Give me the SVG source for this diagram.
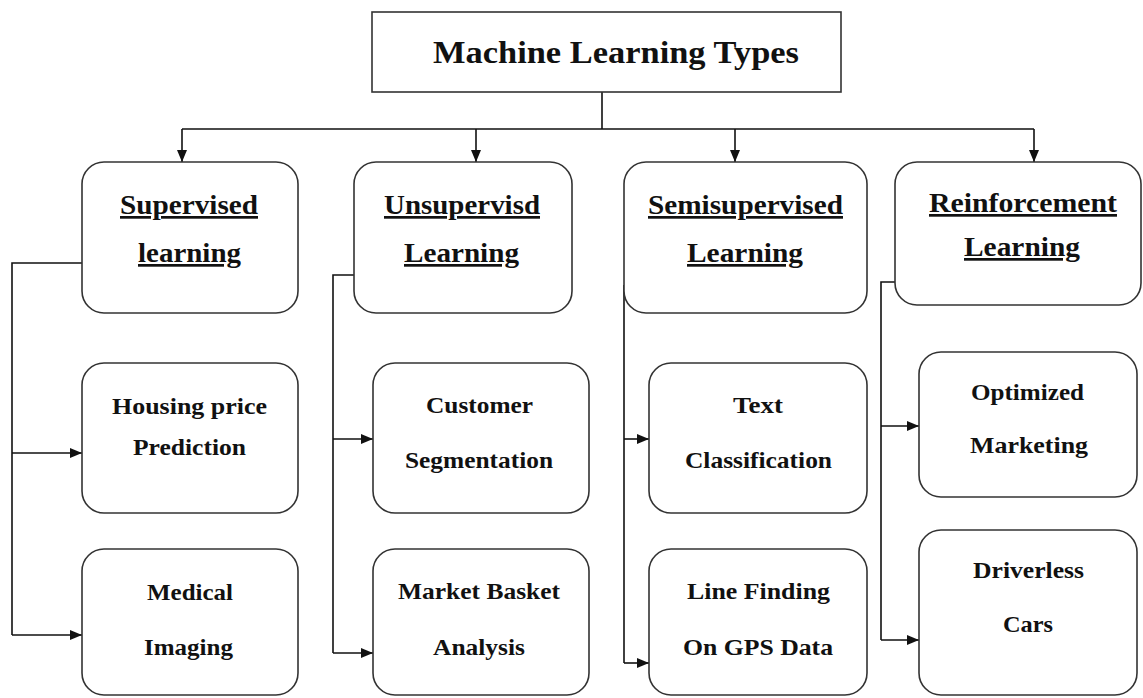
<svg xmlns="http://www.w3.org/2000/svg" width="1143" height="698" viewBox="0 0 1143 698">
  <defs>
    <marker id="arrow" markerUnits="userSpaceOnUse" markerWidth="12" markerHeight="10" refX="12" refY="5" orient="auto">
      <path d="M0,0 L12,5 L0,10 Z" fill="#111"/>
    </marker>
    <style>
      .box { fill: #fff; stroke: #333; stroke-width: 1.6; }
      .wire { fill: none; stroke: #111; stroke-width: 1.6; }
      .arr { marker-end: url(#arrow); }
      text { font-family: "Liberation Serif", "Times New Roman", serif; font-weight: bold; fill: #111; }
      .title { font-size: 31px; }
      .head { font-size: 27px; text-decoration: underline; }
      .leaf { font-size: 23px; }
    </style>
  </defs>
  <rect width="1143" height="698" fill="#fff"/>

  <!-- connectors -->
  <g id="connectors">
    <path class="wire" d="M602,92 V129 M182,129 H1034"/>
    <path class="wire arr" d="M182,129 V162"/>
    <path class="wire arr" d="M476,129 V162"/>
    <path class="wire arr" d="M735,129 V162"/>
    <path class="wire arr" d="M1034,129 V162"/>

    <path class="wire" d="M82,263 H12 V635"/>
    <path class="wire arr" d="M12,453 H82"/>
    <path class="wire arr" d="M12,635 H82"/>

    <path class="wire" d="M354,275 H333 V653"/>
    <path class="wire arr" d="M333,439 H373"/>
    <path class="wire arr" d="M333,653 H373"/>

    <path class="wire" d="M624,285 V663"/>
    <path class="wire arr" d="M624,439 H649"/>
    <path class="wire arr" d="M624,663 H649"/>

    <path class="wire" d="M895,282 H881 V640"/>
    <path class="wire arr" d="M881,426 H919"/>
    <path class="wire arr" d="M881,640 H919"/>
  </g>

  <!-- root -->
  <g id="root">
    <rect class="box" x="372" y="12" width="469" height="80"/>
    <text class="title" x="433" y="63" textLength="366" lengthAdjust="spacingAndGlyphs">Machine Learning Types</text>
  </g>

  <!-- learning types -->
  <g id="supervised">
    <rect class="box" x="82" y="162" width="216" height="151" rx="22"/>
    <text class="head" x="120" y="214" textLength="138" lengthAdjust="spacingAndGlyphs">Supervised</text>
    <text class="head" x="138" y="262" textLength="103" lengthAdjust="spacingAndGlyphs">learning</text>
  </g>
  <g id="unsupervised">
    <rect class="box" x="354" y="162" width="218" height="151" rx="22"/>
    <text class="head" x="384" y="214" textLength="156" lengthAdjust="spacingAndGlyphs">Unsupervisd</text>
    <text class="head" x="404" y="262" textLength="115" lengthAdjust="spacingAndGlyphs">Learning</text>
  </g>
  <g id="semisupervised">
    <rect class="box" x="624" y="162" width="243" height="151" rx="22"/>
    <text class="head" x="648" y="214" textLength="195" lengthAdjust="spacingAndGlyphs">Semisupervised</text>
    <text class="head" x="687" y="262" textLength="116" lengthAdjust="spacingAndGlyphs">Learning</text>
  </g>
  <g id="reinforcement">
    <rect class="box" x="895" y="162" width="246" height="143" rx="22"/>
    <text class="head" x="929" y="212" textLength="188" lengthAdjust="spacingAndGlyphs">Reinforcement</text>
    <text class="head" x="964" y="256" textLength="116" lengthAdjust="spacingAndGlyphs">Learning</text>
  </g>

  <!-- applications -->
  <g id="housing">
    <rect class="box" x="82" y="363" width="216" height="150" rx="22"/>
    <text class="leaf" x="112" y="414" textLength="155" lengthAdjust="spacingAndGlyphs">Housing price</text>
    <text class="leaf" x="133" y="455" textLength="113" lengthAdjust="spacingAndGlyphs">Prediction</text>
  </g>
  <g id="medical">
    <rect class="box" x="82" y="549" width="216" height="146" rx="22"/>
    <text class="leaf" x="147" y="600" textLength="86" lengthAdjust="spacingAndGlyphs">Medical</text>
    <text class="leaf" x="144" y="655" textLength="89" lengthAdjust="spacingAndGlyphs">Imaging</text>
  </g>
  <g id="customer">
    <rect class="box" x="373" y="363" width="216" height="150" rx="22"/>
    <text class="leaf" x="426" y="413" textLength="107" lengthAdjust="spacingAndGlyphs">Customer</text>
    <text class="leaf" x="405" y="468" textLength="148" lengthAdjust="spacingAndGlyphs">Segmentation</text>
  </g>
  <g id="market">
    <rect class="box" x="373" y="549" width="216" height="146" rx="22"/>
    <text class="leaf" x="398" y="599" textLength="162" lengthAdjust="spacingAndGlyphs">Market Basket</text>
    <text class="leaf" x="433" y="655" textLength="92" lengthAdjust="spacingAndGlyphs">Analysis</text>
  </g>
  <g id="text-classification">
    <rect class="box" x="649" y="363" width="218" height="150" rx="22"/>
    <text class="leaf" x="733" y="413" textLength="50" lengthAdjust="spacingAndGlyphs">Text</text>
    <text class="leaf" x="685" y="468" textLength="147" lengthAdjust="spacingAndGlyphs">Classification</text>
  </g>
  <g id="line-finding">
    <rect class="box" x="649" y="549" width="218" height="146" rx="22"/>
    <text class="leaf" x="687" y="599" textLength="143" lengthAdjust="spacingAndGlyphs">Line Finding</text>
    <text class="leaf" x="683" y="655" textLength="150" lengthAdjust="spacingAndGlyphs">On GPS Data</text>
  </g>
  <g id="marketing">
    <rect class="box" x="919" y="352" width="218" height="145" rx="22"/>
    <text class="leaf" x="971" y="400" textLength="113" lengthAdjust="spacingAndGlyphs">Optimized</text>
    <text class="leaf" x="970" y="453" textLength="118" lengthAdjust="spacingAndGlyphs">Marketing</text>
  </g>
  <g id="driverless">
    <rect class="box" x="919" y="530" width="218" height="165" rx="22"/>
    <text class="leaf" x="973" y="578" textLength="111" lengthAdjust="spacingAndGlyphs">Driverless</text>
    <text class="leaf" x="1003" y="632" textLength="50" lengthAdjust="spacingAndGlyphs">Cars</text>
  </g>
</svg>
